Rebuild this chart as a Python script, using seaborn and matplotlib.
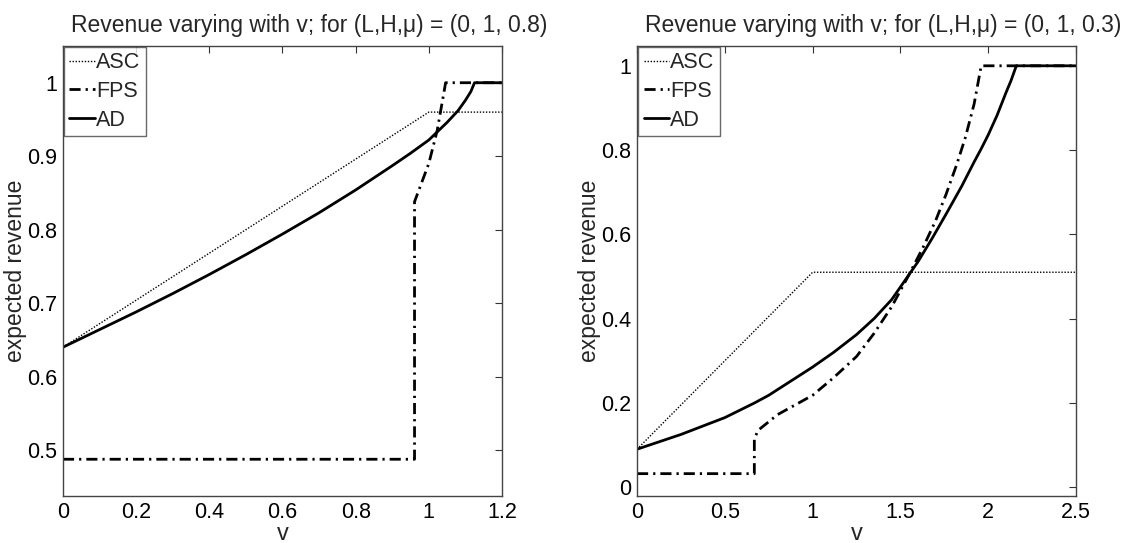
import numpy as np
import pandas as pd
import seaborn as sns
import matplotlib
matplotlib.use("Agg")
import matplotlib.pyplot as plt

# ---- mu = 0.8 panel ----
v_asc_a = [0.0, 1.0, 1.2]
asc_a = [0.64, 0.96, 0.96]

v_fps_a = [0.0, 0.961, 0.961, 0.97, 1.0, 1.023, 1.046, 1.2]
fps_a = [0.4875, 0.4875, 0.838, 0.85, 0.89, 0.935, 1.0, 1.0]

v_ad_a = [0.0, 0.1, 0.2, 0.3, 0.4, 0.5, 0.6, 0.7, 0.8, 0.9, 0.95, 1.0,
          1.05, 1.08, 1.1, 1.115, 1.125, 1.2]
ad_a = [0.64, 0.664, 0.688, 0.713, 0.739, 0.766, 0.794, 0.823, 0.854, 0.887,
        0.904, 0.922, 0.946, 0.962, 0.976, 0.988, 1.0, 1.0]

# ---- mu = 0.3 panel ----
v_asc_b = [0.0, 1.0, 2.5]
asc_b = [0.09, 0.51, 0.51]

v_fps_b = [0.0, 0.668, 0.668, 0.69, 0.8, 0.9, 1.0, 1.12, 1.25, 1.35, 1.45,
           1.55, 1.63, 1.7, 1.76, 1.82, 1.87, 1.92, 1.96, 2.5]
fps_b = [0.032, 0.032, 0.115, 0.135, 0.172, 0.195, 0.218, 0.26, 0.31, 0.365,
         0.428, 0.505, 0.57, 0.632, 0.695, 0.765, 0.83, 0.91, 1.0, 1.0]

v_ad_b = [0.0, 0.25, 0.5, 0.67, 0.75, 1.0, 1.12, 1.25, 1.35, 1.45, 1.5,
          1.6, 1.68, 1.76, 1.85, 1.92, 1.96, 2.0, 2.05, 2.1, 2.13, 2.16, 2.5]
ad_b = [0.09, 0.125, 0.165, 0.2, 0.218, 0.285, 0.32, 0.362, 0.4, 0.445,
        0.475, 0.535, 0.59, 0.648, 0.715, 0.772, 0.803, 0.836, 0.882, 0.935,
        0.965, 1.0, 1.0]

titles = ["Revenue varying with v; for (L,H,μ) = (0, 1, 0.8)",
          "Revenue varying with v; for (L,H,μ) = (0, 1, 0.3)"]
x_ticks = [[0, 0.2, 0.4, 0.6, 0.8, 1, 1.2], [0, 0.5, 1, 1.5, 2, 2.5]]
x_labels = [["0", "0.2", "0.4", "0.6", "0.8", "1", "1.2"],
            ["0", "0.5", "1", "1.5", "2", "2.5"]]
y_ticks = [[0.5, 0.6, 0.7, 0.8, 0.9, 1], [0, 0.2, 0.4, 0.6, 0.8, 1]]
y_labels = [["0.5", "0.6", "0.7", "0.8", "0.9", "1"],
            ["0", "0.2", "0.4", "0.6", "0.8", "1"]]

sns.set_style("white")
plt.rcParams["font.family"] = ["Liberation Sans", "DejaVu Sans"]

fig = plt.figure(figsize=(11.39, 5.43), dpi=100)
ax_a = fig.add_axes([0.0553, 0.0866, 0.3854, 0.8287])
ax_b = fig.add_axes([0.5593, 0.0866, 0.3854, 0.8287])

panels = [
    (ax_a, (v_asc_a, asc_a), (v_fps_a, fps_a), (v_ad_a, ad_a), (0, 1.2), (0.4375, 1.05)),
    (ax_b, (v_asc_b, asc_b), (v_fps_b, fps_b), (v_ad_b, ad_b), (0, 2.5), (-0.021, 1.047)),
]

DOT = (1, 1.2)
DASHDOT = (4, 1.8, 0.8, 1.8)

for i, (ax, asc, fps, ad, xl, yl) in enumerate(panels):
    sns.lineplot(x=asc[0], y=asc[1], ax=ax, estimator=None, sort=False,
                 color="black", linewidth=1.0, label="ASC")
    sns.lineplot(x=fps[0], y=fps[1], ax=ax, estimator=None, sort=False,
                 color="black", linewidth=2.0, label="FPS")
    sns.lineplot(x=ad[0], y=ad[1], ax=ax, estimator=None, sort=False,
                 color="black", linewidth=2.0, label="AD")
    lines = ax.get_lines()
    lines[0].set_dashes(DOT)
    lines[1].set_dashes(DASHDOT)

    ax.set_xlim(*xl)
    ax.set_ylim(*yl)
    ax.set_xticks(x_ticks[i])
    ax.set_xticklabels(x_labels[i])
    ax.set_yticks(y_ticks[i])
    ax.set_yticklabels(y_labels[i])
    ax.tick_params(direction="in", length=5, width=0.8, top=True, right=True,
                   labelsize=15.5, colors="#333333", labelcolor="black", pad=4)
    for s in ax.spines.values():
        s.set_visible(True)
        s.set_color("#444444")
        s.set_linewidth(1.0)
    ax.set_title(titles[i], fontsize=16.5, pad=10, x=0.56)
    ax.set_xlabel("v", fontsize=17, labelpad=0)
    ax.set_ylabel("expected revenue", fontsize=16.5, labelpad=0)

    leg = ax.legend(loc="upper left", fontsize=15.5, frameon=True, fancybox=False,
                    handlelength=1.2, handletextpad=0.05, borderpad=0.25,
                    labelspacing=0.35, borderaxespad=0.05)
    leg.get_frame().set_edgecolor("#444444")
    leg.get_frame().set_linewidth(1.0)
    leg.get_lines()[0].set_dashes(DOT)
    leg.get_lines()[1].set_dashes(DASHDOT)

fig.savefig("out.png", dpi=100, facecolor="white")
